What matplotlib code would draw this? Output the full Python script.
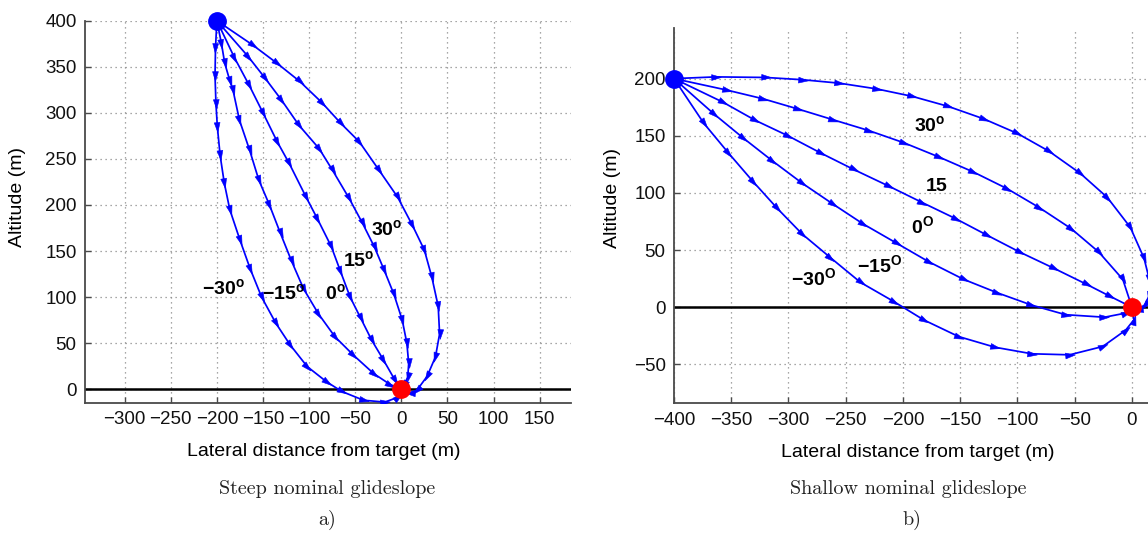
import math

import matplotlib
matplotlib.use("Agg")
import matplotlib.pyplot as plt
from matplotlib.markers import MarkerStyle
from matplotlib.path import Path

plt.rcParams["font.family"] = ["Liberation Sans", "DejaVu Sans"]
plt.rcParams["mathtext.fontset"] = "custom"
plt.rcParams["mathtext.rm"] = "Liberation Sans"
plt.rcParams["mathtext.bf"] = "Liberation Sans:bold"

# =============================================================================
# Data, metres
# =============================================================================

# a) steep nominal glideslope, start (-200, 400) -> target (0, 0)
steep_30_x = [-200, -161, -135, -110, -86, -65.5, -45.5, -24, -4, 12, 25, 33, 40, 41.5, 37, 28, 17, 9, 0]
steep_30_y = [400, 373.5, 354, 334, 311, 288.5, 268.5, 237.5, 208.5, 178, 151, 122, 90, 60, 35, 14, -1, -4, 0]

steep_15_x = [-200, -166, -148, -130, -111, -89, -74.5, -56.5, -42, -29, -18.5, -8, 1, 6, 8, 7, 3, 0]
steep_15_y = [400, 361, 338, 314, 286.5, 261, 237.5, 207, 180, 154, 129, 103, 75, 50, 28, 13, 5, 0]

steep_0_x = [-200, -181, -165, -150, -134.5, -121.5, -103.5, -91, -76, -66, -55.5, -44, -32, -19.5, -7, 0]
steep_0_y = [400, 360, 330, 300, 268.5, 245, 209, 185, 155, 128, 100, 77, 53, 32, 10, 0]

steep_m15_x = [-200, -195, -191.5, -186, -182.5, -175.5, -164.5, -154.5, -143, -131, -119, -106, -90, -72, -52, -30, -12, 0]
steep_m15_y = [400, 375, 354, 335, 324.5, 292, 259.5, 227, 200, 169, 139, 109, 82, 57, 37, 17, 5, 0]

steep_m30_x = [-200, -201.5, -202, -201, -199.5, -196.5, -192, -186, -175, -164, -151.5, -136, -120.5,
               -102, -81, -64.5, -41, -18, -4, 0]
steep_m30_y = [400, 370, 340, 310, 285, 254, 224, 195, 162, 131, 100, 71.5, 48, 24.5, 8, -2.5, -12, -14, -9, 0]

# b) shallow nominal glideslope, start (-400, 200) -> target (0, 0)
shallow_30_x = [-400, -363.5, -320, -287.5, -255.5, -223, -192, -160.5, -129.5, -100, -72.5, -45, -21.5,
                -1.5, 10.5, 15, 15, 11, 5, 0]
shallow_30_y = [200, 201.5, 201, 199, 196, 191, 184.5, 175.7, 164.8, 152, 136.5, 117, 96, 70, 43, 25, 10, 2, -2, 0]

shallow_15_x = [-400, -354, -322, -292, -261, -230, -199, -168.5, -138.5, -109, -81, -53, -29, -8, 0]
shallow_15_y = [200, 190, 182.3, 173.5, 164, 154.6, 143.8, 131.4, 118.3, 103.7, 87.2, 68.7, 48.3, 24.4, 0]

shallow_0_x = [-400, -357.5, -329, -300.5, -272, -243, -212.5, -183, -154, -126.5, -97.5, -68, -39.5, -19, 0]
shallow_0_y = [200, 179.5, 163.5, 150, 135, 120.5, 106, 91.5, 77.5, 63, 48, 34, 20, 9.5, 0]

shallow_m15_x = [-400, -365, -339.5, -314, -288, -261.5, -235, -205.5, -177.5, -147, -118, -88, -58, -24, -5, 0]
shallow_m15_y = [200, 169, 148, 128, 108.5, 90.5, 73, 56, 39.8, 24.4, 12.8, 2, -6.5, -8.7, -5, 0]

shallow_m30_x = [-400, -374, -352.5, -331, -310, -288, -263.5, -237, -208, -182, -151.5, -119.5, -87.5,
                 -54.5, -25.5, -5.5, 1.7, 0]
shallow_m30_y = [200, 161, 135, 110, 86.7, 64, 43.5, 21.7, 5, -11, -25.6, -35, -40.7, -41.6, -34.3, -20, -11, 0]

# curve labels: (text, x, y)
steep_labels = [("30", -16, 172.7), ("15", -46, 140), ("0", -72, 104),
                ("\u221215", -128, 104), ("\u221230", -192.5, 109)]
shallow_labels = [("30", -177, 159, r"$^{\mathbf{o}}$"), ("15", -171, 106, ""),
                  ("0", -183, 70, r"$^{\mathbf{O}}$"), ("\u221215", -220, 36, r"$^{\mathbf{O}}$"),
                  ("\u221230", -278, 25, r"$^{\mathbf{O}}$")]

BLUE = "#0000ff"
RED = "#ff0000"

ARROW = MarkerStyle(Path([(1, 0), (-1, 0.6), (-1, -0.6), (1, 0)],
                         [Path.MOVETO, Path.LINETO, Path.LINETO, Path.CLOSEPOLY]))


def draw_traj(ax, xs, ys):
    ax.plot(xs, ys, color=BLUE, lw=1.25, zorder=3)
    for i in range(1, len(xs) - 1):
        ang = math.degrees(math.atan2(ys[i + 1] - ys[i - 1], xs[i + 1] - xs[i - 1]))
        ax.plot(xs[i], ys[i], marker=ARROW.rotated(deg=ang), ms=7,
                color=BLUE, mec=BLUE, mew=0.4, zorder=3)


def style_axes(ax):
    for s in ("top", "right"):
        ax.spines[s].set_visible(False)
    for s in ("left", "bottom"):
        ax.spines[s].set_color("#4a4a4a")
        ax.spines[s].set_linewidth(1.3)
    ax.tick_params(direction="in", length=4, width=1, colors="#4a4a4a",
                   labelcolor="#111111", labelsize=13.5, pad=6)
    ax.grid(True, linestyle=(0, (1, 3)), color="#8a8a8a", lw=0.9, zorder=0)
    ax.set_axisbelow(True)
    ax.axhline(0, color="black", lw=1.8, zorder=2)


W, H = 1148, 533
fig = plt.figure(figsize=(W / 100, H / 100), dpi=100)

# ---------------------------------------------------------------- a) steep
ax1 = fig.add_axes([85 / W, 1 - 403 / H, (571 - 85) / W, (403 - 20.7) / H])
style_axes(ax1)
for xs, ys in [(steep_30_x, steep_30_y), (steep_15_x, steep_15_y), (steep_0_x, steep_0_y),
               (steep_m15_x, steep_m15_y), (steep_m30_x, steep_m30_y)]:
    draw_traj(ax1, xs, ys)
ax1.plot(steep_30_x[0], steep_30_y[0], "o", color=BLUE, ms=12.5, zorder=5, clip_on=False)
ax1.plot(0, 0, "o", color=RED, ms=12.5, zorder=5)
for txt, x, y in steep_labels:
    ax1.text(x, y, txt + r"$^{\mathbf{o}}$", fontsize=14, fontweight="bold",
             ha="center", va="center", zorder=6)
ax1.set_xlim(-343, 184)
ax1.set_ylim(-15, 400)
ax1.set_xticks(range(-300, 151, 50))
ax1.set_yticks(range(0, 401, 50))
ax1.set_xlabel("Lateral distance from target (m)", fontsize=14, va="center")
ax1.xaxis.set_label_coords(0.492, -0.127)
ax1.set_ylabel("Altitude (m)", fontsize=14, va="center")
ax1.yaxis.set_label_coords(-0.138, 0.54)

# ---------------------------------------------------------------- b) shallow
ax2 = fig.add_axes([674 / W, 1 - 403.3 / H, (W - 674) / W, (403.3 - 28.3) / H])
style_axes(ax2)
for xs, ys in [(shallow_30_x, shallow_30_y), (shallow_15_x, shallow_15_y), (shallow_0_x, shallow_0_y),
               (shallow_m15_x, shallow_m15_y), (shallow_m30_x, shallow_m30_y)]:
    draw_traj(ax2, xs, ys)
ax2.plot(shallow_30_x[0], shallow_30_y[0], "o", color=BLUE, ms=12.5, zorder=5, clip_on=False)
ax2.plot(0, 0, "o", color=RED, ms=12.5, zorder=5)
for txt, x, y, sup in shallow_labels:
    ax2.text(x, y, txt + sup, fontsize=14, fontweight="bold", ha="center", va="center", zorder=6)
ax2.set_xlim(-400, 14)
ax2.set_ylim(-84, 244)
ax2.set_xticks(range(-400, 1, 50))
ax2.set_yticks(range(-50, 201, 50))
ax2.set_xlabel("Lateral distance from target (m)", fontsize=14, va="center")
ax2.xaxis.set_label_coords(0.514, -0.13)
ax2.set_ylabel("Altitude (m)", fontsize=14, va="center")
ax2.yaxis.set_label_coords(-0.13, 0.548)

# ---------------------------------------------------------------- captions
cap = dict(fontfamily="cmr10", fontsize=14.5, color="#222222", ha="center", va="center")
fig.text(327 / W, 1 - 489 / H, "Steep nominal glideslope", **cap)
fig.text(327 / W, 1 - 520 / H, "a)", **cap)
fig.text(908 / W, 1 - 489 / H, "Shallow nominal glideslope", **cap)
fig.text(912 / W, 1 - 520 / H, "b)", **cap)

fig.savefig("out.png", dpi=100)
